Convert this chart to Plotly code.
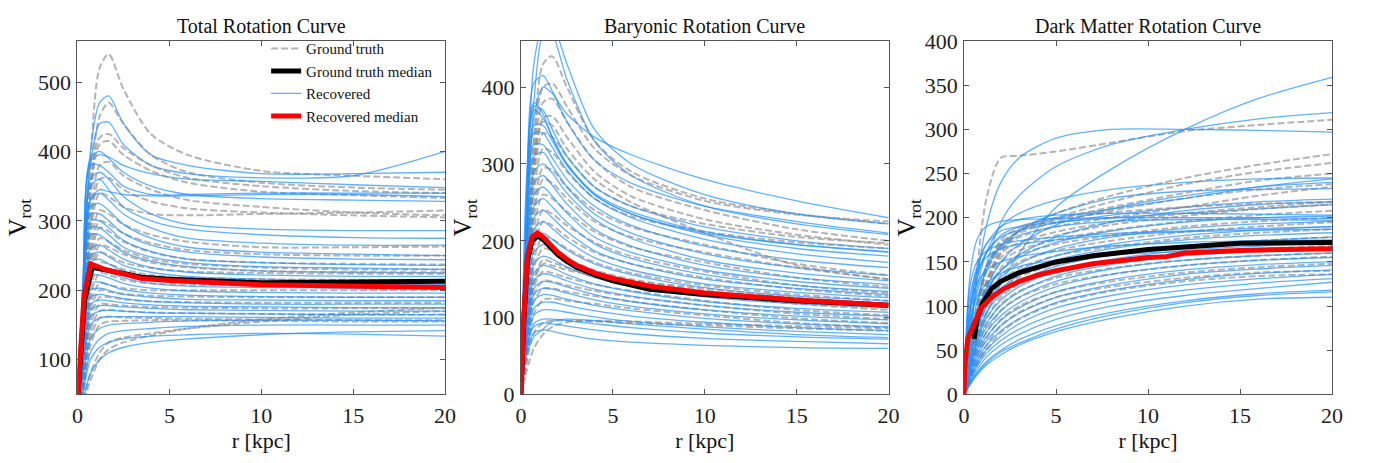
import plotly.graph_objects as go

# ---------------- DATA ----------------
# Total rotation curve (sample radii in kpc)
R_TOT = [0, 0.3, 0.7, 1.2, 1.7, 2.5, 4, 6, 10, 15, 20]
TOT_TRUE = [
    [0, 150, 380, 520, 540, 490, 425, 395, 372, 365, 360],
    [0, 140, 340, 450, 470, 440, 395, 370, 355, 348, 345],
    [0, 150, 350, 420, 425, 405, 380, 362, 350, 343, 340],
    [0, 130, 330, 410, 415, 395, 372, 355, 342, 337, 333],
    [0, 120, 300, 380, 385, 365, 345, 330, 320, 312, 308],
    [0, 110, 290, 360, 362, 345, 328, 318, 312, 308, 305],
    [0, 100, 280, 340, 335, 320, 310, 308, 310, 312, 315],
    [0, 100, 260, 315, 310, 295, 280, 270, 262, 262, 263],
    [0, 95, 250, 300, 295, 282, 268, 258, 252, 250, 250],
    [0, 90, 240, 290, 285, 270, 255, 245, 240, 238, 237],
    [0, 90, 230, 275, 270, 258, 245, 238, 233, 230, 230],
    [0, 85, 215, 255, 250, 240, 232, 227, 225, 224, 224],
    [0, 80, 200, 240, 238, 230, 222, 218, 216, 215, 215],
    [0, 80, 190, 225, 222, 215, 210, 208, 207, 206, 206],
    [0, 75, 180, 210, 208, 203, 200, 200, 200, 200, 200],
    [0, 70, 170, 200, 198, 195, 192, 191, 190, 190, 190],
    [0, 70, 160, 190, 190, 187, 184, 183, 182, 182, 182],
    [0, 65, 150, 180, 180, 178, 176, 175, 174, 174, 174],
    [0, 60, 140, 170, 172, 170, 168, 167, 166, 165, 165],
    [0, 55, 130, 160, 162, 161, 160, 159, 158, 157, 157],
    [0, 50, 120, 150, 155, 156, 157, 157, 156, 155, 155],
    [0, 40, 80, 110, 125, 132, 138, 145, 155, 165, 170],
    [0, 35, 70, 100, 115, 125, 135, 145, 158, 168, 175],
    [0, 85, 220, 265, 262, 252, 240, 233, 228, 226, 226],
]
TOT_REC = [
    [0, 200, 400, 470, 480, 440, 395, 380, 368, 368, 370],
    [0, 190, 380, 440, 442, 410, 380, 368, 362, 365, 400],
    [0, 220, 385, 395, 392, 380, 368, 360, 357, 352, 348],
    [0, 210, 390, 400, 390, 370, 350, 338, 332, 330, 328],
    [0, 200, 380, 380, 370, 350, 338, 338, 340, 340, 340],
    [0, 180, 360, 370, 360, 335, 310, 295, 288, 286, 286],
    [0, 180, 350, 360, 345, 320, 300, 288, 280, 276, 275],
    [0, 170, 330, 340, 330, 310, 290, 275, 268, 265, 265],
    [0, 170, 320, 325, 315, 295, 275, 262, 255, 252, 250],
    [0, 160, 310, 310, 300, 282, 265, 255, 248, 245, 244],
    [0, 160, 300, 300, 290, 272, 256, 245, 240, 237, 236],
    [0, 150, 290, 290, 280, 262, 248, 240, 234, 232, 230],
    [0, 150, 280, 280, 270, 255, 242, 234, 228, 226, 225],
    [0, 140, 260, 265, 258, 245, 233, 226, 222, 220, 220],
    [0, 140, 250, 255, 248, 236, 226, 220, 216, 214, 214],
    [0, 130, 240, 245, 238, 228, 218, 212, 210, 209, 208],
    [0, 130, 230, 232, 226, 218, 210, 206, 204, 203, 203],
    [0, 120, 220, 222, 218, 210, 203, 199, 197, 196, 196],
    [0, 120, 210, 212, 208, 201, 196, 193, 191, 190, 190],
    [0, 110, 200, 203, 200, 194, 190, 187, 186, 185, 185],
    [0, 110, 190, 194, 192, 188, 184, 182, 180, 180, 180],
    [0, 100, 180, 186, 185, 182, 179, 177, 176, 175, 175],
    [0, 100, 172, 178, 178, 176, 174, 172, 171, 170, 170],
    [0, 90, 162, 170, 171, 170, 168, 167, 166, 165, 165],
    [0, 80, 150, 160, 162, 162, 162, 162, 161, 160, 160],
    [0, 70, 130, 145, 150, 152, 154, 156, 157, 157, 156],
    [0, 60, 110, 130, 138, 142, 145, 148, 150, 150, 150],
    [0, 50, 100, 118, 125, 130, 134, 136, 138, 137, 134],
    [0, 40, 80, 100, 110, 118, 125, 130, 136, 140, 142],
    [0, 170, 330, 345, 342, 338, 336, 336, 338, 338, 335],
]
TOT_TRUE_MED_R = [0, 0.38, 0.8, 1.5, 3.5, 5, 10, 15, 20]
TOT_TRUE_MED_V = [40, 185, 233, 229, 219, 216, 211, 212, 213]
TOT_REC_MED_R = [0, 0.36, 0.72, 1.5, 3.5, 5, 10, 15, 20]
TOT_REC_MED_V = [40, 193, 238, 230, 217, 214, 208, 206, 204]

# Baryonic rotation curve
R_BAR = [0, 0.3, 0.7, 1.2, 1.7, 2.5, 4, 6, 10, 15, 20]
BAR_TRUE = [
    [0, 150, 330, 430, 440, 400, 330, 290, 255, 235, 222],
    [0, 140, 320, 400, 405, 375, 320, 285, 252, 234, 225],
    [0, 130, 300, 380, 385, 355, 305, 270, 240, 215, 200],
    [0, 130, 290, 360, 362, 335, 290, 258, 228, 208, 195],
    [0, 120, 280, 340, 335, 310, 270, 245, 222, 205, 197],
    [0, 110, 260, 320, 315, 290, 255, 232, 212, 198, 190],
    [0, 100, 240, 295, 292, 270, 240, 218, 195, 170, 155],
    [0, 100, 230, 280, 275, 255, 225, 205, 185, 165, 150],
    [0, 90, 215, 260, 255, 238, 212, 192, 172, 152, 140],
    [0, 85, 200, 240, 235, 220, 198, 180, 160, 142, 132],
    [0, 80, 190, 225, 220, 205, 185, 170, 152, 137, 128],
    [0, 75, 175, 205, 202, 190, 172, 158, 142, 130, 122],
    [0, 70, 165, 190, 187, 177, 162, 150, 135, 124, 117],
    [0, 65, 150, 175, 172, 165, 153, 143, 130, 118, 110],
    [0, 60, 140, 160, 158, 152, 143, 135, 122, 110, 103],
    [0, 55, 130, 148, 147, 142, 135, 127, 116, 105, 98],
    [0, 50, 120, 138, 138, 134, 128, 121, 110, 99, 93],
    [0, 45, 105, 123, 125, 122, 118, 112, 103, 93, 87],
    [0, 40, 80, 93, 96, 96, 95, 93, 90, 86, 83],
    [0, 30, 60, 78, 88, 94, 96, 95, 92, 89, 86],
    [0, 60, 145, 170, 168, 162, 155, 148, 138, 126, 118],
    [0, 130, 300, 355, 350, 320, 280, 250, 210, 168, 150],
]
BAR_REC = [
    [0, 230, 430, 480, 470, 410, 330, 285, 245, 222, 208],
    [0, 200, 380, 470, 480, 430, 345, 300, 260, 235, 222],
    [0, 260, 405, 415, 395, 355, 305, 275, 245, 225, 210],
    [0, 180, 360, 400, 392, 365, 335, 312, 280, 252, 230],
    [0, 240, 375, 370, 345, 310, 270, 245, 218, 200, 190],
    [0, 220, 370, 360, 335, 300, 262, 238, 212, 195, 185],
    [0, 210, 350, 350, 330, 298, 260, 235, 208, 190, 180],
    [0, 200, 340, 340, 322, 292, 255, 230, 202, 183, 172],
    [0, 190, 325, 325, 308, 280, 245, 220, 193, 175, 165],
    [0, 180, 310, 315, 298, 270, 235, 210, 183, 165, 155],
    [0, 170, 290, 300, 288, 262, 228, 203, 175, 158, 148],
    [0, 160, 275, 285, 272, 248, 215, 193, 168, 152, 143],
    [0, 150, 260, 270, 258, 236, 205, 185, 162, 147, 138],
    [0, 145, 245, 255, 244, 224, 196, 177, 156, 142, 134],
    [0, 135, 230, 240, 230, 212, 187, 170, 150, 138, 130],
    [0, 125, 215, 225, 216, 200, 178, 162, 144, 133, 126],
    [0, 120, 200, 210, 202, 188, 170, 156, 139, 128, 122],
    [0, 110, 185, 195, 190, 177, 161, 148, 133, 123, 118],
    [0, 100, 170, 180, 176, 166, 152, 141, 127, 118, 113],
    [0, 95, 158, 168, 165, 156, 144, 134, 121, 112, 107],
    [0, 90, 148, 157, 155, 148, 137, 128, 116, 107, 102],
    [0, 85, 138, 147, 146, 140, 130, 121, 110, 102, 97],
    [0, 80, 130, 138, 137, 132, 123, 115, 105, 97, 92],
    [0, 75, 122, 130, 129, 124, 116, 109, 99, 92, 88],
    [0, 70, 112, 120, 120, 116, 109, 102, 94, 87, 83],
    [0, 65, 103, 110, 110, 107, 101, 95, 88, 82, 78],
    [0, 60, 92, 98, 98, 96, 92, 87, 80, 75, 72],
    [0, 60, 88, 93, 92, 89, 84, 79, 73, 69, 66],
    [0, 55, 80, 84, 82, 78, 72, 68, 64, 61, 60],
    [0, 50, 75, 85, 95, 98, 96, 92, 85, 78, 74],
    [0, 280, 380, 365, 335, 300, 260, 235, 210, 195, 186],
]
BAR_TRUE_MED_R = [0, 0.15, 0.35, 0.6, 0.9, 1.2, 1.6, 2, 2.5, 3, 4, 5, 7, 10, 15, 20]
BAR_TRUE_MED_V = [0, 95, 175, 200, 206, 202, 192, 182, 173, 166, 156, 148, 137, 130, 122, 116]
BAR_REC_MED_R = [0, 0.15, 0.35, 0.6, 0.9, 1.2, 1.6, 2, 2.5, 3, 4, 5, 7, 10, 15, 20]
BAR_REC_MED_V = [0, 100, 180, 205, 210, 205, 195, 185, 176, 168, 158, 151, 141, 132, 123, 116]

# Dark matter rotation curve
R_DM = [0, 0.3, 0.7, 1.2, 2, 3, 5, 8, 12, 16, 20]
DM_TRUE = [
    [0, 60, 140, 220, 268, 270, 275, 285, 298, 305, 311],
    [0, 40, 80, 120, 160, 185, 205, 225, 245, 260, 272],
    [0, 40, 85, 125, 165, 185, 200, 218, 238, 252, 262],
    [0, 45, 95, 140, 170, 185, 198, 212, 228, 242, 250],
    [0, 50, 100, 145, 172, 183, 195, 208, 222, 232, 238],
    [0, 45, 95, 138, 165, 178, 190, 200, 212, 225, 235],
    [0, 40, 85, 128, 160, 172, 184, 195, 205, 212, 218],
    [0, 40, 85, 125, 155, 168, 180, 192, 202, 210, 215],
    [0, 35, 80, 120, 150, 163, 175, 186, 196, 203, 208],
    [0, 35, 75, 112, 143, 158, 170, 180, 190, 196, 200],
    [0, 30, 70, 105, 135, 150, 163, 174, 184, 190, 195],
    [0, 30, 65, 100, 128, 143, 157, 167, 177, 183, 187],
    [0, 25, 60, 92, 118, 133, 147, 158, 168, 174, 178],
    [0, 25, 55, 85, 110, 125, 140, 150, 160, 165, 168],
    [0, 20, 50, 78, 102, 117, 132, 143, 152, 157, 160],
    [0, 20, 45, 70, 95, 110, 125, 136, 146, 152, 156],
    [0, 18, 40, 63, 85, 100, 116, 128, 138, 144, 148],
    [0, 15, 35, 55, 78, 93, 110, 122, 132, 138, 140],
    [0, 15, 32, 50, 70, 85, 103, 117, 128, 134, 136],
    [0, 40, 90, 140, 175, 188, 198, 206, 212, 216, 218],
]
DM_REC = [
    [0, 60, 130, 190, 240, 268, 290, 300, 300, 299, 297],
    [0, 40, 95, 145, 195, 225, 258, 283, 300, 312, 319],
    [0, 30, 60, 90, 125, 160, 212, 255, 300, 335, 359],
    [0, 70, 120, 160, 190, 205, 220, 232, 240, 244, 245],
    [0, 80, 130, 160, 180, 190, 200, 210, 222, 235, 244],
    [0, 100, 145, 170, 185, 190, 195, 200, 205, 210, 215],
    [0, 90, 135, 160, 178, 186, 194, 203, 212, 218, 221],
    [0, 60, 105, 140, 168, 185, 205, 222, 230, 232, 233],
    [0, 50, 90, 120, 150, 170, 192, 210, 225, 235, 240],
    [0, 45, 85, 115, 140, 158, 178, 195, 208, 215, 218],
    [0, 50, 90, 118, 140, 155, 172, 185, 195, 200, 202],
    [0, 45, 82, 110, 133, 148, 165, 178, 188, 193, 196],
    [0, 40, 75, 102, 125, 140, 157, 170, 180, 186, 190],
    [0, 38, 72, 98, 120, 135, 152, 165, 175, 180, 183],
    [0, 35, 66, 92, 113, 128, 145, 158, 168, 174, 178],
    [0, 32, 62, 86, 107, 122, 140, 153, 163, 168, 172],
    [0, 30, 58, 80, 101, 116, 134, 147, 157, 162, 165],
    [0, 28, 54, 75, 95, 110, 128, 142, 152, 157, 160],
    [0, 26, 50, 70, 89, 104, 122, 136, 146, 152, 155],
    [0, 24, 46, 65, 84, 98, 116, 130, 141, 147, 150],
    [0, 22, 42, 60, 78, 92, 110, 124, 136, 142, 146],
    [0, 20, 38, 55, 72, 86, 104, 118, 130, 137, 141],
    [0, 18, 35, 50, 66, 80, 98, 112, 124, 131, 136],
    [0, 16, 32, 46, 61, 74, 91, 106, 118, 126, 131],
    [0, 14, 28, 42, 56, 68, 85, 100, 112, 120, 127],
    [0, 12, 25, 37, 50, 62, 78, 93, 106, 114, 118],
    [0, 10, 22, 33, 45, 56, 71, 86, 100, 108, 110],
    [0, 11, 24, 35, 48, 58, 74, 90, 104, 112, 116],
    [0, 90, 140, 170, 190, 198, 203, 205, 205, 204, 203],
    [0, 70, 115, 145, 168, 180, 190, 196, 198, 198, 197],
    [0, 130, 175, 190, 196, 198, 199, 200, 200, 200, 199],
    [0, 110, 140, 155, 165, 170, 175, 180, 184, 186, 187],
    [0, 120, 150, 162, 170, 174, 178, 182, 185, 188, 190],
    [0, 95, 125, 140, 150, 156, 162, 168, 172, 174, 175],
    [0, 80, 110, 125, 137, 145, 152, 158, 162, 164, 165],
]
DM_TRUE_MED_R = [0.55, 0.7, 1, 1.5, 2, 3, 5, 7, 10, 13, 15, 20]
DM_TRUE_MED_V = [63, 85, 103, 120, 128, 138, 150, 157, 164, 169, 171, 172]
DM_REC_MED_R = [0, 0.05, 0.2, 0.4, 0.9, 1.5, 2.1, 3, 4, 5, 7, 10, 11, 12, 15, 20]
DM_REC_MED_V = [0, 35, 63, 72, 97, 110, 119, 128, 135, 140, 148, 155, 156, 160, 163, 165]

TITLES = ["Total Rotation Curve", "Baryonic Rotation Curve", "Dark Matter Rotation Curve"]
X_LABEL = "r [kpc]"
Y_LABEL = "V<sub>rot</sub>"
Y_RANGES = [[50, 559], [0, 460], [0, 400]]
Y_DTICKS = [100, 100, 50]

# ---------------- STYLE ----------------
FONT = "Liberation Serif"
GRAY = "rgba(140,140,140,0.65)"
BLUE = "rgba(30,144,255,0.70)"
X_DOMAINS = [[0.0533, 0.3236], [0.3794, 0.6497], [0.7052, 0.9758]]
Y_DOMAIN = [0.1268, 0.9337]
Y_TITLE_STANDOFF = [4, 2, 1]

fig = go.Figure()

panels = [
    (R_TOT, TOT_TRUE, TOT_REC, TOT_TRUE_MED_R, TOT_TRUE_MED_V, TOT_REC_MED_R, TOT_REC_MED_V),
    (R_BAR, BAR_TRUE, BAR_REC, BAR_TRUE_MED_R, BAR_TRUE_MED_V, BAR_REC_MED_R, BAR_REC_MED_V),
    (R_DM, DM_TRUE, DM_REC, DM_TRUE_MED_R, DM_TRUE_MED_V, DM_REC_MED_R, DM_REC_MED_V),
]

for p, (rr, true_c, rec_c, tmr, tmv, rmr, rmv) in enumerate(panels):
    xa = "x" if p == 0 else f"x{p+1}"
    ya = "y" if p == 0 else f"y{p+1}"
    n = max(len(true_c), len(rec_c))
    for i in range(n):
        if i < len(true_c):
            fig.add_trace(go.Scatter(
                x=rr, y=true_c[i], mode="lines", xaxis=xa, yaxis=ya,
                line=dict(color=GRAY, width=2, dash="7px,3px", shape="spline", smoothing=0.8),
                name="Ground truth", legendgroup="gt", legendrank=1,
                showlegend=(p == 0 and i == 0), hoverinfo="skip"))
        if i < len(rec_c):
            fig.add_trace(go.Scatter(
                x=rr, y=rec_c[i], mode="lines", xaxis=xa, yaxis=ya,
                line=dict(color=BLUE, width=1.3, shape="spline", smoothing=0.8),
                name="Recovered", legendgroup="rec", legendrank=3,
                showlegend=(p == 0 and i == 0), hoverinfo="skip"))
    fig.add_trace(go.Scatter(
        x=tmr, y=tmv, mode="lines", xaxis=xa, yaxis=ya,
        line=dict(color="black", width=5),
        name="Ground truth median", legendgroup="gtm", legendrank=2,
        showlegend=(p == 0), hoverinfo="skip"))
    fig.add_trace(go.Scatter(
        x=rmr, y=rmv, mode="lines", xaxis=xa, yaxis=ya,
        line=dict(color="red", width=5),
        name="Recovered median", legendgroup="recm", legendrank=4,
        showlegend=(p == 0), hoverinfo="skip"))

axis_common = dict(
    showline=True, linecolor="#555", linewidth=1, mirror="ticks",
    ticks="inside", ticklen=5, tickcolor="#555", tickwidth=1,
    showgrid=False, zeroline=False,
    tickfont=dict(family=FONT, size=22, color="#222"),
)

layout = dict(
    width=1376, height=463,
    margin=dict(l=0, r=0, t=0, b=0),
    paper_bgcolor="white", plot_bgcolor="white",
    font=dict(family=FONT, color="#111"),
    showlegend=True,
    legend=dict(x=0.192, y=0.954, xanchor="left", yanchor="top",
                bgcolor="rgba(0,0,0,0)", borderwidth=0,
                font=dict(family=FONT, size=15, color="#111"),
                tracegroupgap=0, itemwidth=30),
)
annotations = []
for p in range(3):
    sx = "" if p == 0 else str(p + 1)
    layout["xaxis" + sx] = dict(domain=X_DOMAINS[p], range=[0, 20], tick0=0, dtick=5,
                                anchor="y" + sx, ticklabelstandoff=1,
                                title=dict(text=X_LABEL, standoff=3,
                                           font=dict(family=FONT, size=22, color="#111")),
                                **axis_common)
    layout["yaxis" + sx] = dict(domain=Y_DOMAIN, range=Y_RANGES[p], tick0=0, dtick=Y_DTICKS[p],
                                anchor="x" + sx, ticklabelstandoff=1,
                                title=dict(text=Y_LABEL, standoff=Y_TITLE_STANDOFF[p],
                                           font=dict(family=FONT, size=25, color="#111")),
                                **axis_common)
    cx = (X_DOMAINS[p][0] + X_DOMAINS[p][1]) / 2
    annotations.append(dict(text=TITLES[p], x=cx, y=1 - 15 / 463, xref="paper", yref="paper",
                            showarrow=False, xanchor="center", yanchor="middle",
                            font=dict(family=FONT, size=20, color="#111")))
layout["annotations"] = annotations
fig.update_layout(**layout)

fig.write_html("out.html")
